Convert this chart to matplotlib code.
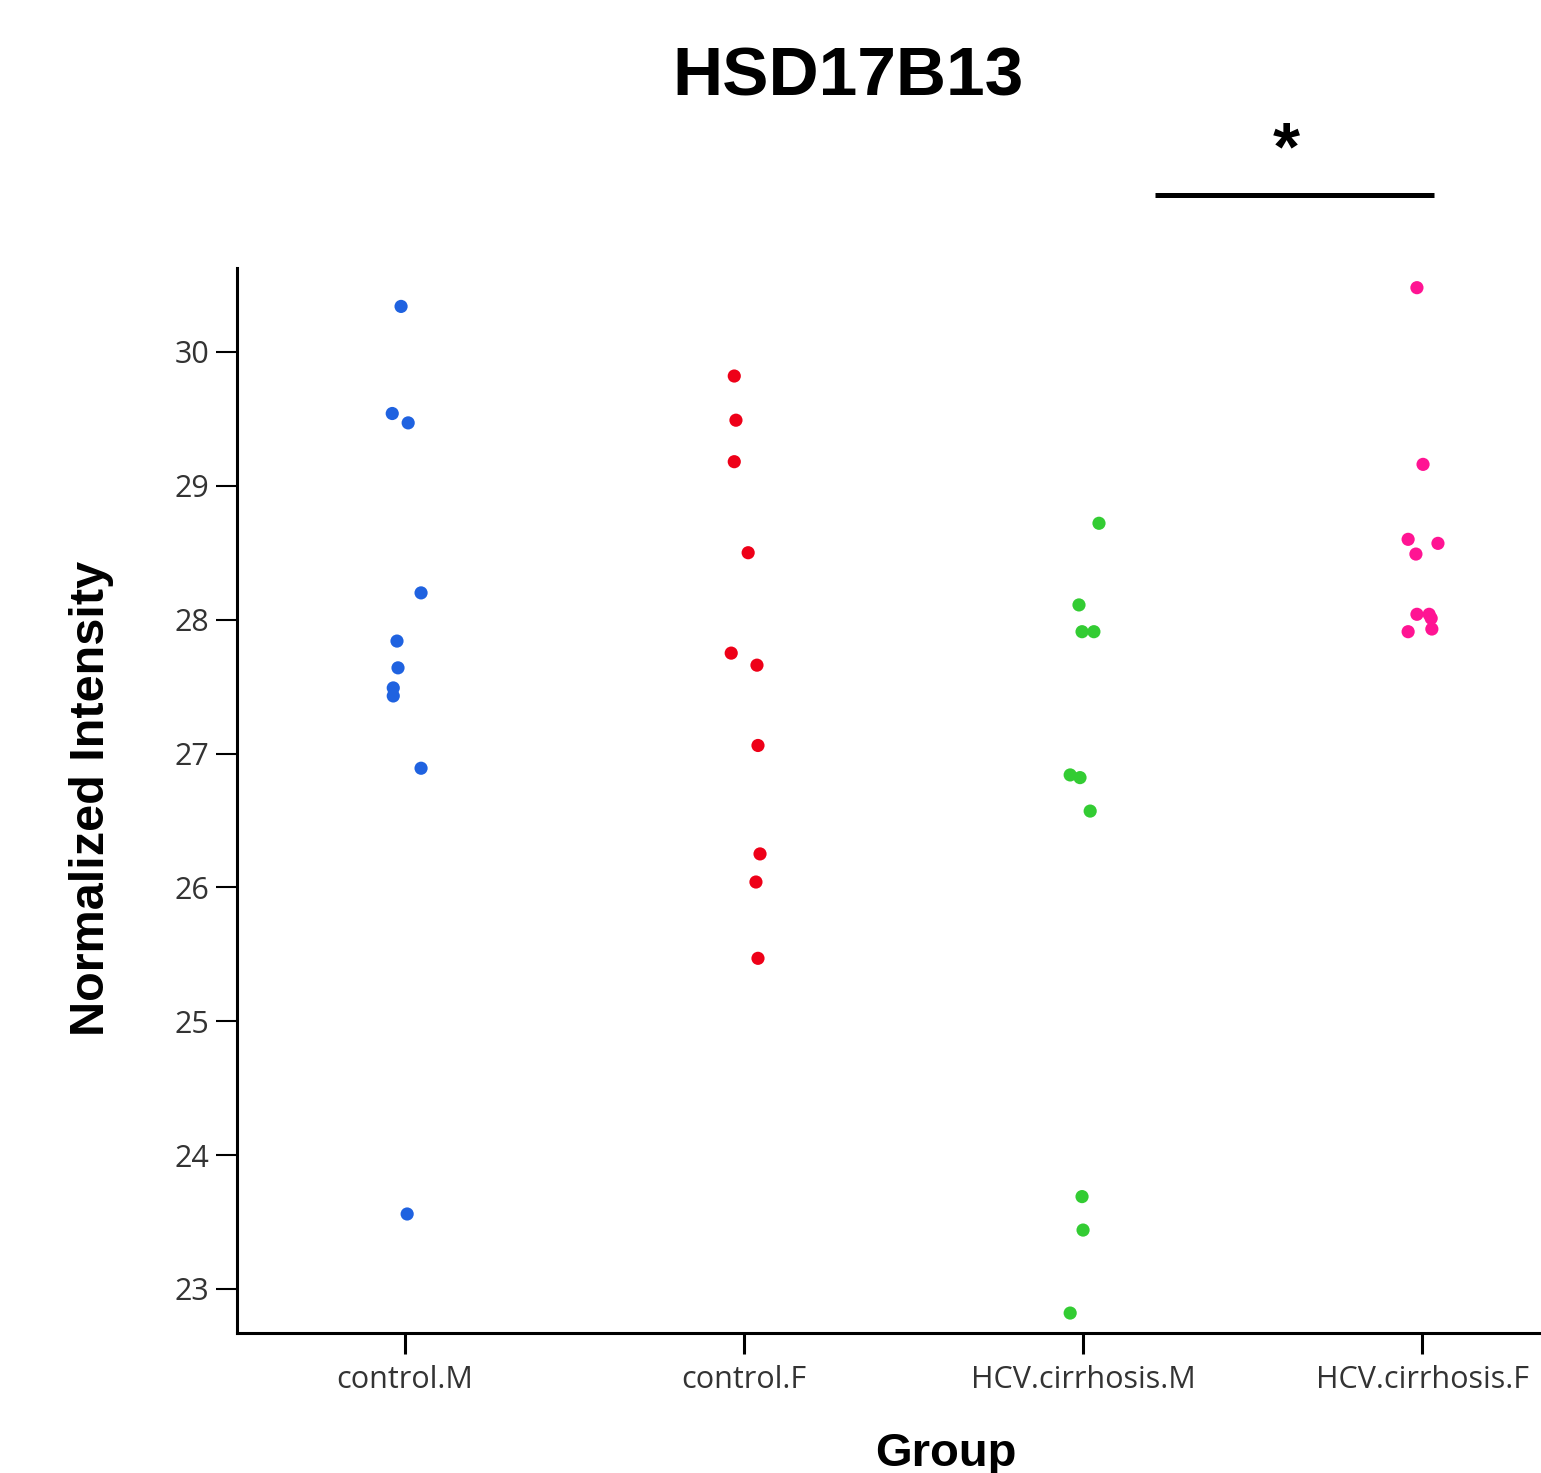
import matplotlib
matplotlib.use("Agg")
from matplotlib import pyplot as plt

groups = ['control.M', 'control.F', 'HCV.cirrhosis.M', 'HCV.cirrhosis.F']
colors = ['#1f62e0', '#ee0018', '#33cc33', '#ff1493']

# values, one list per group
control_m = [30.34, 29.54, 29.47, 28.20, 27.84, 27.64, 27.49, 27.43, 26.89, 23.56]
control_f = [29.82, 29.49, 29.18, 28.50, 27.75, 27.66, 27.06, 26.25, 26.04, 25.47]
hcv_m = [28.72, 28.11, 27.91, 27.91, 26.84, 26.82, 26.57, 23.69, 23.44, 22.82]
hcv_f = [30.48, 29.16, 28.60, 28.57, 28.49, 28.04, 28.04, 28.01, 27.93, 27.91]

# horizontal jitter of each point (category units)
jit_m = [-0.012, -0.038, 0.009, 0.047, -0.024, -0.021, -0.035, -0.035, 0.047, 0.006]
jit_f = [-0.029, -0.024, -0.029, 0.012, -0.038, 0.038, 0.041, 0.047, 0.035, 0.041]
jit_hm = [0.047, -0.012, -0.003, 0.032, -0.038, -0.009, 0.021, -0.003, 0.0, -0.038]
jit_hf = [-0.015, 0.003, -0.041, 0.047, -0.018, -0.015, 0.021, 0.027, 0.029, -0.041]

values = [control_m, control_f, hcv_m, hcv_f]
jitters = [jit_m, jit_f, jit_hm, jit_hf]

fig = plt.figure(figsize=(15.41, 14.73), dpi=100)
ax = fig.add_axes([237 / 1541, 1 - 1333 / 1473, 1 - 237 / 1541, (1333 - 268) / 1473])

for i, (vals, jit) in enumerate(zip(values, jitters)):
    xs = [i + j for j in jit]
    ax.scatter(xs, vals, s=90, color=colors[i], edgecolors='none', zorder=3)

ax.set_xlim(-0.496, 3.351)
ax.set_ylim(22.671, 30.627)
ax.set_xticks(range(len(groups)))
ax.set_xticklabels(groups)
ax.set_yticks([23, 24, 25, 26, 27, 28, 29, 30])

for s in ['top', 'right']:
    ax.spines[s].set_visible(False)
for s in ['left', 'bottom']:
    ax.spines[s].set_linewidth(2.2)
    ax.spines[s].set_color('black')

ax.tick_params(axis='y', length=15, width=1.5, pad=5, labelsize=22, labelcolor='#333333')
ax.tick_params(axis='x', length=15, width=2.2, pad=8, labelsize=22, labelcolor='#333333')
for lab in ax.get_xticklabels() + ax.get_yticklabels():
    lab.set_family('Open Sans')

fig.text(848 / 1541, 1 - 77 / 1473, 'HSD17B13', ha='center', va='center',
         fontsize=50, fontweight='bold', family='Liberation Sans')
fig.text(92 / 1541, 1 - 798 / 1473, 'Normalized Intensity', ha='center', va='center',
         rotation=90, fontsize=35, fontweight='bold', family='Liberation Sans')
fig.text(946 / 1541, 1 - 1466 / 1473, 'Group', ha='center', va='baseline',
         fontsize=34, fontweight='bold', family='Liberation Sans')

# significance bar
ax.plot([2.212, 3.035], [31.17, 31.17], color='black', lw=3.6, clip_on=False,
        solid_capstyle='butt')
ax.text(2.60, 31.50, '*', ha='center', va='center', fontsize=50,
        fontweight='bold', family='Liberation Sans', clip_on=False)

fig.savefig('out.png', dpi=100)
